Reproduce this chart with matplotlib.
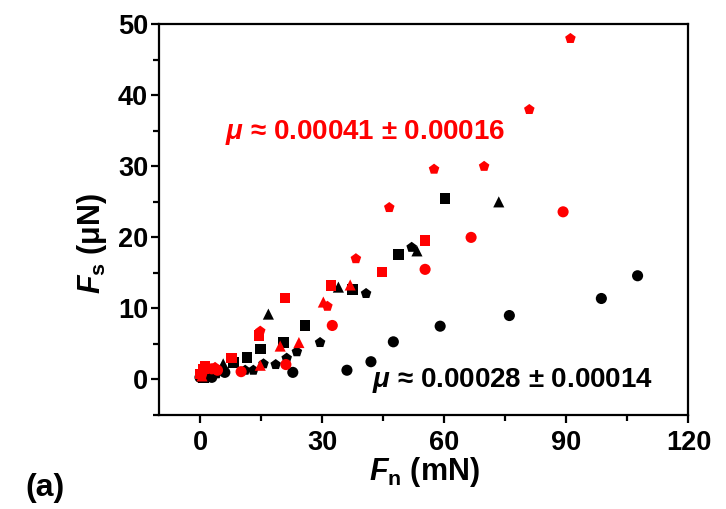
import matplotlib
matplotlib.use("Agg")
import matplotlib.pyplot as plt
from matplotlib.ticker import MultipleLocator

plt.rcParams['font.family'] = ['Liberation Sans', 'DejaVu Sans']
plt.rcParams['mathtext.fontset'] = 'custom'
plt.rcParams['mathtext.it'] = 'Liberation Sans:italic:bold'
plt.rcParams['mathtext.rm'] = 'Liberation Sans:bold'
plt.rcParams['mathtext.bf'] = 'Liberation Sans:bold'

# ---- data (Fn in mN, Fs in uN) ----
bc_x = [0.0, 2.9, 6.1, 22.8, 36.1, 42.0, 47.5, 59.0, 76.0, 98.6, 107.5]
bc_y = [0.3, 0.3, 1.0, 1.0, 1.3, 2.5, 5.3, 7.5, 9.0, 11.4, 14.6]

bs_x = [0.8, 2.0, 8.2, 11.5, 14.8, 20.5, 25.8, 37.5, 48.8, 60.2]
bs_y = [0.3, 0.5, 2.4, 3.1, 4.3, 5.2, 7.6, 12.7, 17.6, 25.5]

bt_x = [1.5, 3.5, 5.7, 16.8, 34.0, 53.3, 73.4]
bt_y = [0.5, 1.0, 2.2, 9.2, 13.0, 18.1, 25.0]

bp_x = [1.2, 4.0, 11.1, 13.1, 15.6, 18.6, 21.3, 23.8, 29.5, 40.8, 52.0]
bp_y = [0.6, 0.8, 1.3, 1.3, 2.2, 2.1, 3.0, 3.9, 5.2, 12.1, 18.6]

rc_x = [2.9, 4.3, 10.1, 21.1, 32.5, 55.3, 66.6, 89.2]
rc_y = [1.5, 1.3, 1.1, 2.1, 7.6, 15.5, 20.0, 23.6]

rs_x = [0.0, 0.8, 1.2, 7.8, 14.5, 20.9, 32.2, 44.7, 55.3]
rs_y = [0.8, 1.5, 1.9, 3.0, 6.2, 11.5, 13.2, 15.1, 19.6]

rt_x = [0.5, 14.8, 19.7, 24.3, 30.3, 36.9]
rt_y = [0.5, 2.0, 4.7, 5.2, 10.9, 13.3]

rp_x = [0.5, 3.7, 14.8, 31.3, 38.3, 46.5, 57.5, 69.8, 80.9, 91.0]
rp_y = [0.5, 1.7, 6.8, 10.3, 17.0, 24.2, 29.6, 30.0, 38.0, 48.0]

x_ticks = [0, 30, 60, 90, 120]
y_ticks = [0, 10, 20, 30, 40, 50]

RED = '#ff0000'
BLK = '#000000'

fig = plt.figure(figsize=(7.26, 5.09), dpi=100)
ax = fig.add_axes([0.2194, 0.1847, 0.7289, 0.7676])

ms = 64
series = [
    (bc_x, bc_y, 'o', BLK, ms),
    (bs_x, bs_y, 's', BLK, ms * 0.9),
    (bt_x, bt_y, '^', BLK, ms),
    (bp_x, bp_y, 'p', BLK, ms),
    (rc_x, rc_y, 'o', RED, ms),
    (rs_x, rs_y, 's', RED, ms * 0.9),
    (rt_x, rt_y, '^', RED, ms),
    (rp_x, rp_y, 'p', RED, ms),
]
for xs, ys, m, c, s in series:
    ax.scatter(xs, ys, marker=m, s=s, color=c, edgecolors='none', zorder=3)

ax.set_xlim(-10, 120)
ax.set_ylim(-5, 50)
ax.set_xticks(x_ticks)
ax.set_yticks(y_ticks)
ax.xaxis.set_minor_locator(MultipleLocator(15))
ax.yaxis.set_minor_locator(MultipleLocator(5))

for sp in ax.spines.values():
    sp.set_linewidth(1.6)
ax.tick_params(which='major', direction='out', length=6, width=1.6,
               labelsize=19.5, top=False, right=False)
ax.tick_params(axis='x', which='major', pad=5)
ax.tick_params(axis='y', which='major', pad=2)
ax.tick_params(which='minor', direction='out', length=4, width=1.6,
               top=False, right=False)
for lab in ax.get_xticklabels() + ax.get_yticklabels():
    lab.set_fontweight('bold')

ax.set_xlabel(r'$\mathit{F}_{\mathregular{n}}$ (mN)', fontsize=22,
              fontweight='bold')
ax.set_ylabel(r'$\mathit{F}_{\mathregular{s}}$ (μN)', fontsize=22,
              fontweight='bold')
ax.xaxis.set_label_coords(0.502, -0.103)
ax.yaxis.set_label_coords(-0.095, 0.44)

ax.text(6.1, 34.7, r'$\mathit{\mu}$' + ' ≈ 0.00041 ± 0.00016', color=RED,
        fontsize=20, fontweight='bold', va='center', ha='left')
ax.text(42.3, -0.2, r'$\mathit{\mu}$' + ' ≈ 0.00028 ± 0.00014', color=BLK,
        fontsize=20, fontweight='bold', va='center', ha='left')

fig.text(25 / 726, 1 - 488 / 509, '(a)', fontsize=23, fontweight='bold',
         va='center', ha='left')

fig.savefig('out.png', dpi=100)
